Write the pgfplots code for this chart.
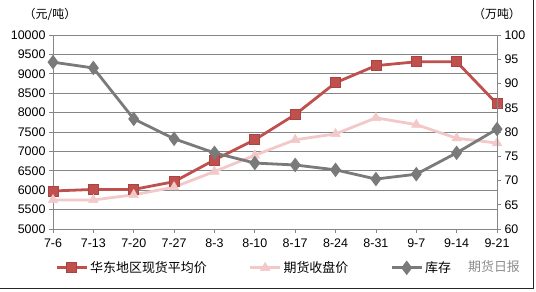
\documentclass[border=0pt]{standalone}
\usepackage{pgfplots}
\pgfplotsset{compat=1.18}
\usepackage{fontspec}
\setmainfont{Liberation Sans}
\newfontfamily\cjk{Noto Sans CJK SC}
\definecolor{cred}{HTML}{C0504D}
\definecolor{credd}{HTML}{A84441}
\definecolor{cpink}{HTML}{F2C8C8}
\definecolor{cgray}{HTML}{7A7A7A}
\definecolor{cgrid}{HTML}{868686}
\begin{document}
\begin{tikzpicture}[x=1bp,y=1bp]
\useasboundingbox (0,0) rectangle (536,291);
\draw[black!85, line width=1.2bp] (0,2.5) -- (533.5,2.5) -- (533.5,291);
\begin{axis}[
  at={(53bp,62bp)}, anchor=south west, scale only axis,
  width=444bp, height=194bp,
  xmin=0, xmax=11, ymin=5000, ymax=10000,
  ytick distance=500, scaled y ticks=false,
  yticklabel={\pgfmathprintnumber[fixed, precision=0, set thousands separator={}, assume math mode=true]{\tick}},
  xtick={0,...,11},
  xticklabels={7-6,7-13,7-20,7-27,8-3,8-10,8-17,8-24,8-31,9-7,9-14,9-21},
  axis x line*=bottom, axis y line*=left,
  axis line style={cgrid, line width=0.8bp, -},
  ymajorgrids, grid style={cgrid, line width=0.8bp},
  tick align=outside, major tick length=4bp,
  tick style={cgrid, line width=0.8bp},
  tick label style={font=\fontsize{12.5}{14}\selectfont, black},
  /pgf/number format/assume math mode=true,
  xticklabel style={yshift=-2bp},
  legend columns=3,
  legend style={draw=none, fill=none, at={(0.005,-0.2)}, anchor=west,
    font=\cjk\fontsize{13}{15}\selectfont, inner sep=0pt,
    /tikz/every even column/.append style={column sep=40bp}},
  legend image code/.code={
    \draw[#1, mark repeat=2, mark phase=2] plot coordinates {(0bp,0bp) (15bp,0bp) (30bp,0bp)};},
  clip=false,
]
\addplot[cred, line width=2.8bp, mark=square*, mark size=5bp,
  mark options={fill=cred, draw=credd, line width=0.8bp}]
  coordinates {(0,5980) (1,6020) (2,6020) (3,6220) (4,6780) (5,7300)
  (6,7950) (7,8770) (8,9210) (9,9310) (10,9310) (11,8225)};
\addlegendentry{华东地区现货平均价}
\addplot[cpink, line width=2.8bp, mark=triangle*, mark size=5.5bp,
  mark options={fill=cpink, draw=cpink, line width=0.5bp}]
  coordinates {(0,5750) (1,5750) (2,5880) (3,6080) (4,6480) (5,6900)
  (6,7300) (7,7450) (8,7865) (9,7690) (10,7340) (11,7215)};
\addlegendentry{期货收盘价}
\addlegendimage{cgray, line width=2.8bp, mark=diamond*, mark size=5bp,
  mark options={fill=cgray, draw=cgray}}
\addlegendentry{库存}
\end{axis}
\begin{axis}[
  at={(53bp,62bp)}, anchor=south west, scale only axis,
  width=444bp, height=194bp,
  xmin=0, xmax=11, ymin=60, ymax=100,
  ytick distance=5,
  axis x line=none, axis y line*=right,
  axis line style={cgrid, line width=0.8bp, -},
  tick align=outside, major tick length=4bp,
  tick style={cgrid, line width=0.8bp},
  tick label style={font=\fontsize{12.5}{14}\selectfont, black},
  /pgf/number format/assume math mode=true,
  clip=false,
]
\addplot[cgray, line width=2.8bp, mark=diamond*, mark size=5bp,
  mark options={fill=cgray, draw=cgray}]
  coordinates {(0,94.4) (1,93.2) (2,82.7) (3,78.6) (4,75.7) (5,73.6)
  (6,73.2) (7,72.2) (8,70.3) (9,71.3) (10,75.7) (11,80.6)};
\end{axis}
\node[font=\cjk\fontsize{12}{14}\selectfont] at (50,277) {（元/吨）};
\node[font=\cjk\fontsize{12}{14}\selectfont] at (497,277) {（万吨）};
\node[font=\cjk\fontsize{13}{15}\selectfont, text=black!45] at (494,24) {期货日报};
\end{tikzpicture}
\end{document}
